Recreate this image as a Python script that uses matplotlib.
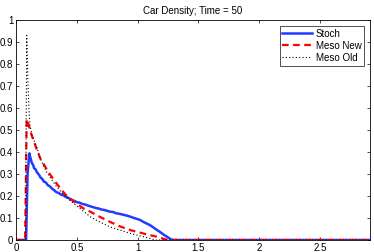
import matplotlib
matplotlib.use("Agg")
import matplotlib.pyplot as plt

plt.rcParams['font.family'] = ['Liberation Sans', 'DejaVu Sans']

stoch_x = [0, 0.08, 0.083, 0.095, 0.11, 0.115, 0.12, 0.13, 0.14, 0.15, 0.16, 0.17, 0.18, 0.19,
           0.2, 0.215, 0.23, 0.245, 0.26, 0.28, 0.3, 0.315, 0.33, 0.35, 0.37, 0.39, 0.41,
           0.43, 0.45, 0.47, 0.5, 0.52, 0.55, 0.57, 0.6, 0.63, 0.66, 0.68, 0.7, 0.73,
           0.77, 0.8, 0.82, 0.85, 0.88, 0.91, 0.94, 0.97, 1.0, 1.02, 1.045, 1.07, 1.1,
           1.13, 1.16, 1.18, 1.2, 1.22, 1.24, 1.26, 1.27, 1.29, 2.9]
stoch_y = [0, 0, 0.0, 0.30, 0.394, 0.38, 0.372, 0.35, 0.342, 0.325, 0.322, 0.31, 0.302, 0.296,
           0.285, 0.278, 0.265, 0.262, 0.25, 0.243, 0.232, 0.226, 0.218, 0.214, 0.206, 0.203, 0.196,
           0.192, 0.184, 0.18, 0.172, 0.17, 0.163, 0.161, 0.155, 0.15, 0.145, 0.143, 0.139, 0.136,
           0.129, 0.127, 0.122, 0.119, 0.115, 0.111, 0.106, 0.1, 0.095, 0.091, 0.083, 0.076, 0.068,
           0.057, 0.045, 0.038, 0.03, 0.022, 0.015, 0.008, 0.004, 0, 0]

new_x = [0, 0.075, 0.088, 0.1, 0.12, 0.165, 0.2, 0.247, 0.29, 0.33, 0.37, 0.41, 0.49, 0.55,
         0.61, 0.69, 0.77, 0.85, 0.94, 1.045, 1.1, 1.16, 1.22, 1.25, 2.9]
new_y = [0, 0, 0.55, 0.53, 0.49, 0.42, 0.37, 0.327, 0.29, 0.26, 0.23, 0.205, 0.168, 0.145,
         0.129, 0.105, 0.083, 0.063, 0.045, 0.03, 0.022, 0.015, 0.004, 0, 0]

old_x = [0, 0.078, 0.088, 0.098, 0.106, 0.115, 0.13, 0.165, 0.2, 0.25, 0.33, 0.41, 0.5, 0.61,
         0.66, 0.77, 0.94, 1.045, 1.15, 2.9]
old_y = [0, 0, 0.93, 0.72, 0.6, 0.52, 0.48, 0.43, 0.37, 0.31, 0.245, 0.195, 0.155, 0.106,
         0.09, 0.06, 0.03, 0.015, 0, 0]

xticks = [0, 0.5, 1, 1.5, 2, 2.5]
xtick_labels = ['0', '0.5', '1', '1.5', '2', '2.5']
yticks = [0, 0.1, 0.2, 0.3, 0.4, 0.5, 0.6, 0.7, 0.8, 0.9, 1]
ytick_labels = ['0', '0.1', '0.2', '0.3', '0.4', '0.5', '0.6', '0.7', '0.8', '0.9', '1']

fig = plt.figure(figsize=(3.74, 2.52), dpi=100)
ax = fig.add_axes([16/374, 12/252, 354/374, 220/252])

ax.plot(stoch_x, stoch_y, color='#1f3cff', lw=1.8, label='Stoch')
ax.plot(new_x, new_y, color='#ff0000', lw=1.6, ls=(0, (3, 2)), label='Meso New')
ax.plot(old_x, old_y, color='black', lw=0.8, ls=(0, (1, 2)), label='Meso Old')

ax.set_xlim(0, 2.91)
ax.set_ylim(0, 1)
ax.set_xticks(xticks)
ax.set_xticklabels(xtick_labels)
ax.set_yticks(yticks)
ax.set_yticklabels(ytick_labels)
ax.tick_params(direction='in', top=True, right=True, labelsize=7, length=2.5, width=0.5, pad=2)
for s in ax.spines.values():
    s.set_linewidth(0.6)
ax.set_title('Car Density; Time = 50', fontsize=7, pad=4)

leg = ax.legend(loc='upper right', fontsize=7, frameon=True, fancybox=False,
                edgecolor='black', handlelength=3, borderpad=0.3, labelspacing=0.2,
                handletextpad=0.4, borderaxespad=0.6)
leg.get_frame().set_linewidth(0.6)

fig.savefig('out.png', dpi=100)
